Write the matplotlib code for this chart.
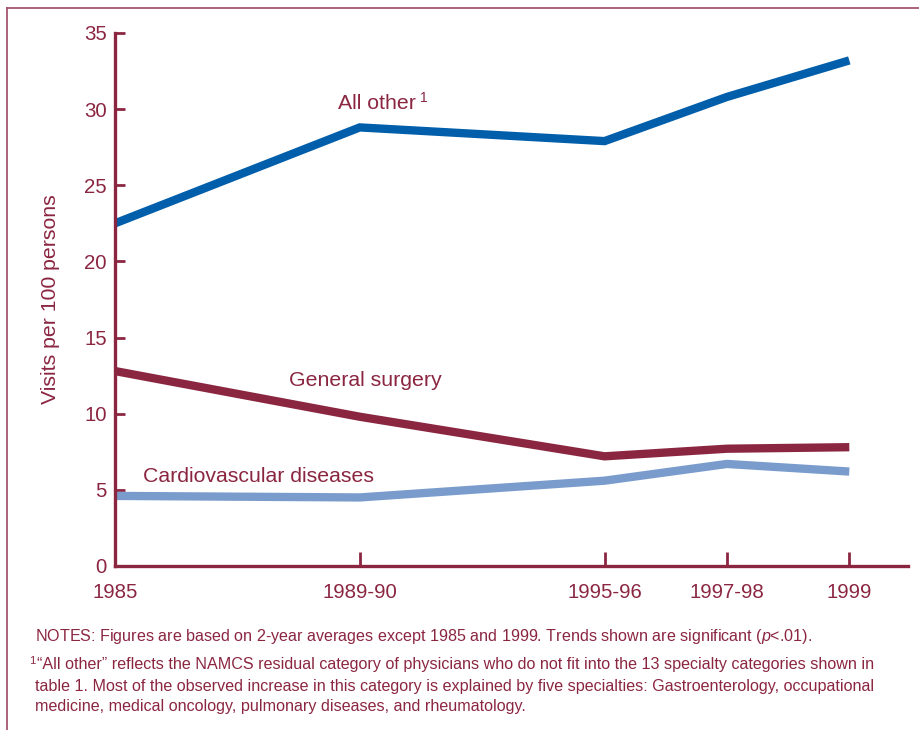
import matplotlib
matplotlib.use("Agg")
import matplotlib.pyplot as plt
from matplotlib import font_manager
from matplotlib.lines import Line2D

# data
periods = ["1985", "1989-90", "1995-96", "1997-98", "1999"]
x_pos = [0, 2, 4, 5, 6]  # spacing in the original: 2, 2, 1, 1
all_other = [22.5, 28.8, 27.9, 30.8, 33.2]
general_surgery = [12.8, 9.8, 7.2, 7.7, 7.8]
cardiovascular = [4.6, 4.5, 5.6, 6.7, 6.2]
y_ticks = [0, 5, 10, 15, 20, 25, 30, 35]

MAROON = "#8B2641"
BLUE = "#005EAA"
LIGHT_BLUE = "#7A9CCC"
FRAME = "#A4576E"

names = {f.name for f in font_manager.fontManager.ttflist}
base_font = "Liberation Sans" if "Liberation Sans" in names else "DejaVu Sans"
plt.rcParams["font.family"] = [base_font, "DejaVu Sans"]
plt.rcParams["mathtext.fontset"] = "custom"
plt.rcParams["mathtext.it"] = base_font + ":italic"
plt.rcParams["mathtext.rm"] = base_font

fig = plt.figure(figsize=(9.2, 7.3), dpi=100)
ax = fig.add_axes([0.125, 0.2247, 0.862, 0.7301])

for vals, col in [(all_other, BLUE), (general_surgery, MAROON), (cardiovascular, LIGHT_BLUE)]:
    ax.plot(x_pos, vals, color=col, lw=6, solid_capstyle="butt", solid_joinstyle="miter")

ax.set_xlim(0, 6.48)
ax.set_ylim(0, 35)
ax.set_xticks(x_pos)
ax.set_xticklabels(periods)
ax.set_yticks(y_ticks)

for side in ["top", "right"]:
    ax.spines[side].set_visible(False)
for side in ["left", "bottom"]:
    ax.spines[side].set_color(MAROON)
    ax.spines[side].set_linewidth(2.4)
ax.spines["left"].set_bounds(0, 35)

ax.tick_params(axis="y", direction="in", length=7, width=2, color=MAROON,
               labelcolor=MAROON, labelsize=14.7, pad=6)
ax.tick_params(axis="x", direction="in", length=10, width=2, color=MAROON,
               labelcolor=MAROON, labelsize=14.7, pad=12)

ax.set_ylabel("Visits per 100 persons", color=MAROON, fontsize=15.3, labelpad=17)

# series labels
t = ax.text(1.82, 30.4, "All other", color=MAROON, fontsize=15.3, va="center", ha="left")
ax.annotate("1", xy=(1, 0.75), xycoords=t, xytext=(3, 0), textcoords="offset points",
            color=MAROON, fontsize=10, va="center", ha="left")
ax.text(1.42, 12.2, "General surgery", color=MAROON, fontsize=15.3, va="center", ha="left")
ax.text(0.23, 5.85, "Cardiovascular diseases", color=MAROON, fontsize=15.3, va="center", ha="left")

# frame lines
fig.add_artist(Line2D([7 / 920, 7 / 920], [0, 1 - 8 / 730], transform=fig.transFigure,
                      color=FRAME, lw=1.3))
fig.add_artist(Line2D([7 / 920, 1], [1 - 8 / 730, 1 - 8 / 730], transform=fig.transFigure,
                      color=FRAME, lw=1.3))

# notes
note_kw = dict(color=MAROON, fontsize=11.6, va="center", ha="left")
fig.text(35 / 920, 1 - 636 / 730,
         r"NOTES: Figures are based on 2-year averages except 1985 and 1999. Trends shown are significant ($\it{p}$<.01).",
         **note_kw)
fig.text(29 / 920, 1 - 661 / 730, "1", color=MAROON, fontsize=8, va="center", ha="left")
fig.text(37 / 920, 1 - 665 / 730,
         "\u201cAll other\u201d reflects the NAMCS residual category of physicians who do not fit into the 13 specialty categories shown in",
         **note_kw)
fig.text(35 / 920, 1 - 686 / 730,
         "table 1. Most of the observed increase in this category is explained by five specialties: Gastroenterology, occupational",
         **note_kw)
fig.text(35 / 920, 1 - 706 / 730,
         "medicine, medical oncology, pulmonary diseases, and rheumatology.",
         **note_kw)

fig.savefig("out.png", dpi=100)
